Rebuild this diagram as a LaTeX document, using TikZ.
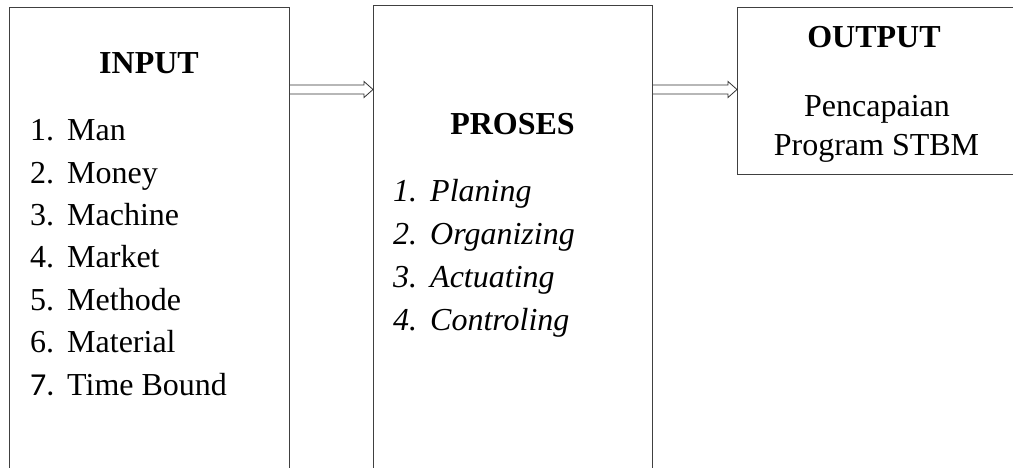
\documentclass[tikz,border=0pt]{standalone}
\usepackage{fontspec}
\setmainfont{Liberation Serif}
\newfontfamily\calfont{Carlito}
\usetikzlibrary{calc}
\begin{document}
\begin{tikzpicture}[x=1pt,y=-1pt,
  box/.style={draw=black!75,line width=1pt,inner sep=0pt,anchor=north west},
  arrowline/.style={draw=black!80,line width=0.8pt,line join=miter},
  txt/.style={inner sep=0pt,anchor=base,font=\fontsize{32}{40}\selectfont},
  itm/.style={inner sep=0pt,anchor=base west,font=\fontsize{32}{40}\selectfont},
  ititm/.style={itm,font=\fontsize{32}{40}\selectfont\itshape}]
\useasboundingbox (0,0) rectangle (1013,468);
\clip (0,0) rectangle (1013,468);
% boxes
\node[box,minimum width=280pt,minimum height=483pt] (in) at (9,7) {};
\node[box,minimum width=279pt,minimum height=485pt] (pr) at (373,5) {};
\node[box,minimum width=290pt,minimum height=167pt] (out) at (737,7) {};
% arrows
\coordinate (ay) at (0,89.5);
\draw[arrowline] let \p1=(in.east |- ay), \p2=(pr.west |- ay) in
  (\x1,\y1+4.5pt) -- (\x2-9pt,\y1+4.5pt) -- (\x2-9pt,\y1+8pt) -- (\x2,\y1)
  -- (\x2-9pt,\y1-8pt) -- (\x2-9pt,\y1-4.5pt) -- (\x1,\y1-4.5pt);
\draw[arrowline] let \p1=(pr.east |- ay), \p2=(out.west |- ay) in
  (\x1,\y1+4.5pt) -- (\x2-9pt,\y1+4.5pt) -- (\x2-9pt,\y1+8pt) -- (\x2,\y1)
  -- (\x2-9pt,\y1-8pt) -- (\x2-9pt,\y1-4.5pt) -- (\x1,\y1-4.5pt);
% INPUT
\node[txt,font=\fontsize{32}{40}\selectfont\bfseries] (inT) at (149,74) {INPUT};
\foreach \n/\t [count=\i from 0] in {1./Man,2./Money,3./Machine,4./Market,5./Methode,6./Material}{
  \node[itm] (inN\i) at (30,{140.7+42.4*\i}) {\n};
  \node[itm] (inL\i) at (67,{140.7+42.4*\i}) {\t};
}
\node[itm,font=\fontsize{32}{40}\calfont] (inN6) at (30,395) {7.};
\node[itm] (inL6) at (67,395) {Time Bound};
% PROSES
\node[txt,font=\fontsize{32}{40}\selectfont\bfseries] (prT) at (512.5,135) {PROSES};
\foreach \n/\t [count=\i from 0] in {1./Planing,2./Organizing,3./Actuating,4./Controling}{
  \node[ititm] (prN\i) at (393,{201.5+43*\i}) {\n};
  \node[ititm] (prL\i) at (430,{201.5+43*\i}) {\t};
}
% OUTPUT
\node[txt,font=\fontsize{32}{40}\selectfont\bfseries] (outT) at (874,47.3) {OUTPUT};
\node[txt] (outA) at (877,116.7) {Pencapaian};
\node[txt] (outB) at (876.5,156) {Program STBM};
\end{tikzpicture}
\end{document}
